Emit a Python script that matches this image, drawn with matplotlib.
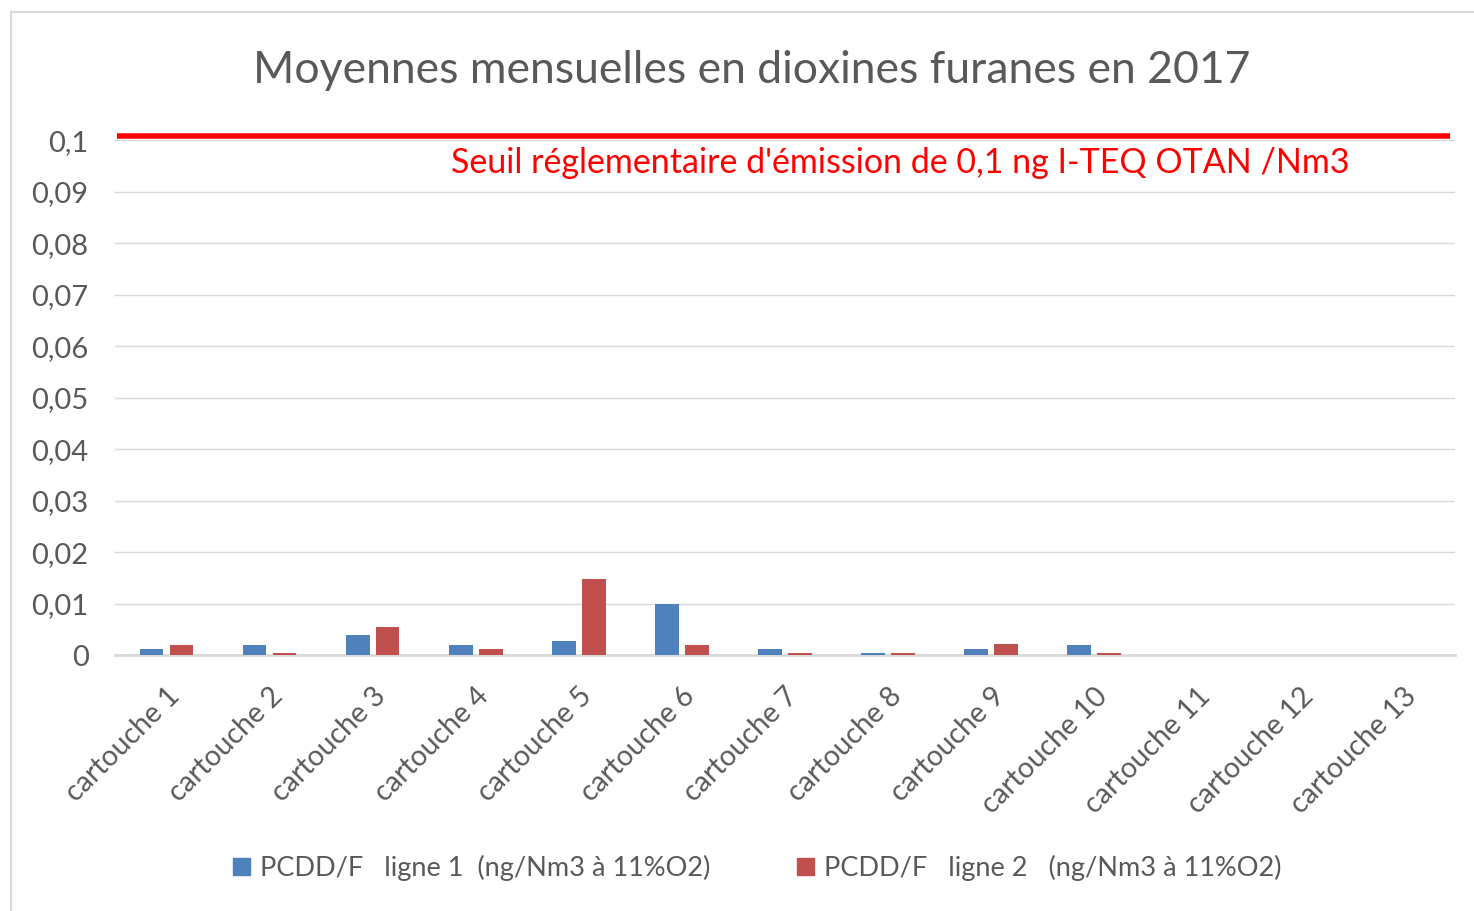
import matplotlib
matplotlib.use('Agg')
import matplotlib.pyplot as plt
import matplotlib.transforms as mtransforms
from matplotlib.patches import Patch
import numpy as np

plt.rcParams['font.family'] = ['Lato', 'DejaVu Sans']

# monthly averages per cartridge (ng I-TEQ/Nm3)
categories = ['cartouche %d' % i for i in range(1, 14)]
ligne1 = [0.0012, 0.002, 0.0038, 0.002, 0.0028, 0.01, 0.0012, 0.0004, 0.0012, 0.002, 0, 0, 0]
ligne2 = [0.002, 0.0004, 0.0054, 0.0012, 0.0148, 0.002, 0.0004, 0.0004, 0.0022, 0.0004, 0, 0, 0]
seuil = 0.1
yticks = [0, 0.01, 0.02, 0.03, 0.04, 0.05, 0.06, 0.07, 0.08, 0.09, 0.1]
ytick_labels = ['0', '0,01', '0,02', '0,03', '0,04', '0,05', '0,06', '0,07', '0,08', '0,09', '0,1']
legend_labels = ['PCDD/F   ligne 1  (ng/Nm3 à 11%O2)', 'PCDD/F   ligne 2   (ng/Nm3 à 11%O2)']

blue = '#4F81BD'
red = '#C0504D'
grey_txt = '#595959'
grid_col = '#D9D9D9'

fig = plt.figure(figsize=(14.74, 9.11), dpi=100)
ax = fig.add_axes([0.078, 0.281, 0.909, 0.565])

x = np.arange(len(categories))
w = 0.23
ax.bar(x - 0.145, ligne1, width=w, color=blue, zorder=3)
ax.bar(x + 0.145, ligne2, width=w, color=red, zorder=3)

ax.set_xlim(-0.5, len(categories) - 0.5)
ax.set_ylim(0, 0.1)
ax.set_yticks(yticks)
ax.set_yticklabels(ytick_labels, fontsize=21, color=grey_txt)
ax.set_xticks(x)
ax.set_xticklabels(categories, rotation=45, ha='right', va='top',
                   rotation_mode='anchor', fontsize=20.5, color=grey_txt)
ax.tick_params(axis='both', length=0)
ax.tick_params(axis='y', pad=19)
ax.tick_params(axis='x', pad=20)

for s in ['top', 'right', 'left']:
    ax.spines[s].set_visible(False)
ax.spines['bottom'].set_color(grid_col)
ax.spines['bottom'].set_linewidth(2)
ax.yaxis.grid(True, color=grid_col, linewidth=1, zorder=0)
ax.set_axisbelow(True)

# regulatory threshold line, drawn slightly above the top gridline
off = mtransforms.ScaledTranslation(0, 4.5 / 100, fig.dpi_scale_trans)
ax.plot([-0.48, len(categories) - 0.55], [seuil, seuil], color='#FF0000',
        linewidth=4, solid_capstyle='butt', clip_on=False, zorder=4,
        transform=ax.transData + off)
ax.text(0.586, 0.0955, "Seuil réglementaire d'émission de 0,1 ng I-TEQ OTAN /Nm3",
        transform=ax.get_yaxis_transform(), ha='center', va='center',
        fontsize=24.5, color='#FF0000')

fig.text(0.510, 0.923, 'Moyennes mensuelles en dioxines furanes en 2017',
         ha='center', va='center', fontsize=32, color=grey_txt)

handles = [Patch(color=blue), Patch(color=red)]
fig.legend(handles, legend_labels, loc='center', bbox_to_anchor=(0.514, 0.047),
           ncol=2, frameon=False, fontsize=19.5, labelcolor=grey_txt,
           handlelength=0.6, handleheight=0.6, handletextpad=0.4, columnspacing=3.2)

# chart frame
fig.add_artist(plt.Line2D([11 / 1474, 11 / 1474], [0, 1 - 12 / 911],
                          transform=fig.transFigure, color=grid_col, linewidth=1.5))
fig.add_artist(plt.Line2D([11 / 1474, 1], [1 - 12 / 911, 1 - 12 / 911],
                          transform=fig.transFigure, color=grid_col, linewidth=1.5))

fig.savefig('out.png', dpi=100, facecolor='white')
